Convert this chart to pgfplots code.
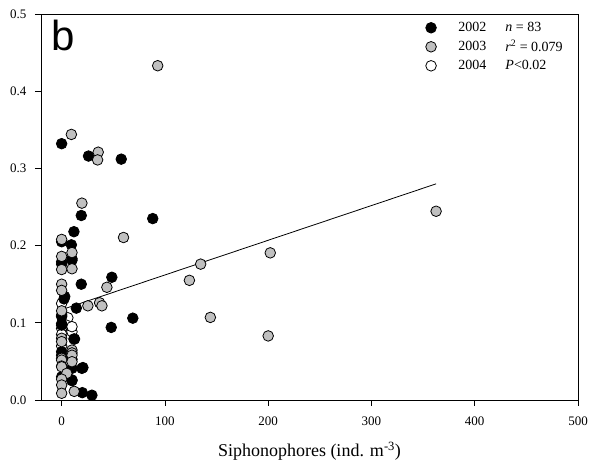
\documentclass[border=0pt]{standalone}
\usepackage{pgfplots}
\pgfplotsset{compat=1.18}
\usepackage{fontspec}
\setmainfont{Liberation Serif}
\newfontfamily\arialfont{Liberation Sans}
\definecolor{ggray}{RGB}{192,192,192}
\begin{document}
\begin{tikzpicture}
\begin{axis}[
  scale only axis,
  width=537pt, height=386pt,
  xmin=-20, xmax=500, ymin=0, ymax=0.5,
  xtick={0,100,200,300,400,500},
  ytick={0,0.1,0.2,0.3,0.4,0.5},
  yticklabel style={/pgf/number format/fixed, /pgf/number format/fixed zerofill, /pgf/number format/precision=1, xshift=-5pt},
  /pgf/number format/assume math mode=true,
  tick align=outside,
  major tick length=6pt,
  xtick pos=bottom, ytick pos=left,
  tick label style={font=\fontsize{13}{15}\selectfont},
  xticklabel style={yshift=-7pt},
  axis line style={line width=0.8pt},
  every tick/.style={line width=0.8pt, black},
  xlabel={Siphonophores (ind. m\textsuperscript{-3})},
  xlabel style={font=\fontsize{18}{20}\selectfont, yshift=-10pt},
  legend columns=2,
  legend style={draw=none, fill=none, at={(axis cs:352,0.492)}, anchor=north west,
    font=\fontsize{14}{16}\selectfont, row sep=3pt, inner sep=0pt,
    /tikz/every odd column/.style={column sep=9pt},
    /tikz/every even column/.style={column sep=6pt}},
  legend cell align=left,
  legend image code/.code={\draw[#1] plot coordinates {(0pt,0pt)}; \path (-5.3pt,0pt) (16pt,0pt);},
  every axis plot/.append style={mark size=5.3pt, line width=0.8pt},
]
\addlegendimage{only marks, mark=*, draw=black, fill=black}
\addlegendentry{2002}
\addlegendimage{empty legend}
\addlegendentry{\textit{n} = 83}
\addlegendimage{only marks, mark=*, draw=black, fill=ggray}
\addlegendentry{2003}
\addlegendimage{empty legend}
\addlegendentry{\textit{r}\textsuperscript{2} = 0.079}
\addlegendimage{only marks, mark=*, draw=black, fill=white}
\addlegendentry{2004}
\addlegendimage{empty legend}
\addlegendentry{\textit{P}<0.02}
% 2004
\addplot[only marks, mark=*, draw=black, fill=white, forget plot] coordinates {
(0,0.125) (6,0.1065) (4.5,0.097) (0,0.0927) (10,0.0884) (10,0.095)
(0,0.085) (0,0.070)
};
% 2002
\addplot[only marks, mark=*, draw=black, fill=black, forget plot] coordinates {
(0,0.332) (26,0.316) (57.7,0.312) (19,0.239) (88.2,0.235) (11.9,0.218)
(9.4,0.201) (0,0.205) (10,0.183) (10,0.181) (0,0.176) (0,0.179) (48.6,0.159) (19,0.150)
(2.3,0.131) (3,0.134) (14.2,0.119) (0,0.110) (0,0.108) (0,0.099) (0,0.097) (68.9,0.106)
(48,0.094) (11.9,0.079) (12.5,0.079) (0,0.0625) (0,0.058) (10,0.0527) (19.6,0.041)
(10,0.041) (20.6,0.042) (0,0.030) (10,0.025) (10,0.026) (20,0.0095) (29.3,0.0062)
};
% 2003
\addplot[only marks, mark=*, draw=black, fill=ggray, forget plot] coordinates {
(9.4,0.344) (35.4,0.321) (34.8,0.311) (93,0.433) (19.6,0.255) (59.9,0.2105)
(0,0.208) (10,0.191) (0,0.186) (0,0.169) (10,0.170) (43.8,0.146) (0,0.150)
(0,0.142) (25.4,0.122) (36.7,0.126) (39,0.122) (0,0.1155) (0,0.080) (0,0.0756)
(10,0.0647) (10,0.061) (10,0.058) (0,0.054) (0,0.0517) (10,0.0496) (0,0.044) (0,0.043)
(5,0.0345) (0,0.027) (0,0.0194) (0,0.0087) (12.2,0.0112)
(362.6,0.2445) (202,0.1906) (134.6,0.176) (123.7,0.155) (144,0.107) (200,0.083)
};
% regression
\addplot[black, line width=0.8pt, no marks, forget plot] coordinates {(0,0.117) (362.6,0.280)};
\node[anchor=base west, inner sep=0pt, font=\arialfont\fontsize{42}{42}\selectfont] at (axis cs:-9.7,0.4528) {b};
\end{axis}
\path (current axis.south west) ++(-41pt,-65pt) rectangle ++(592pt,465pt);
\end{tikzpicture}
\end{document}
